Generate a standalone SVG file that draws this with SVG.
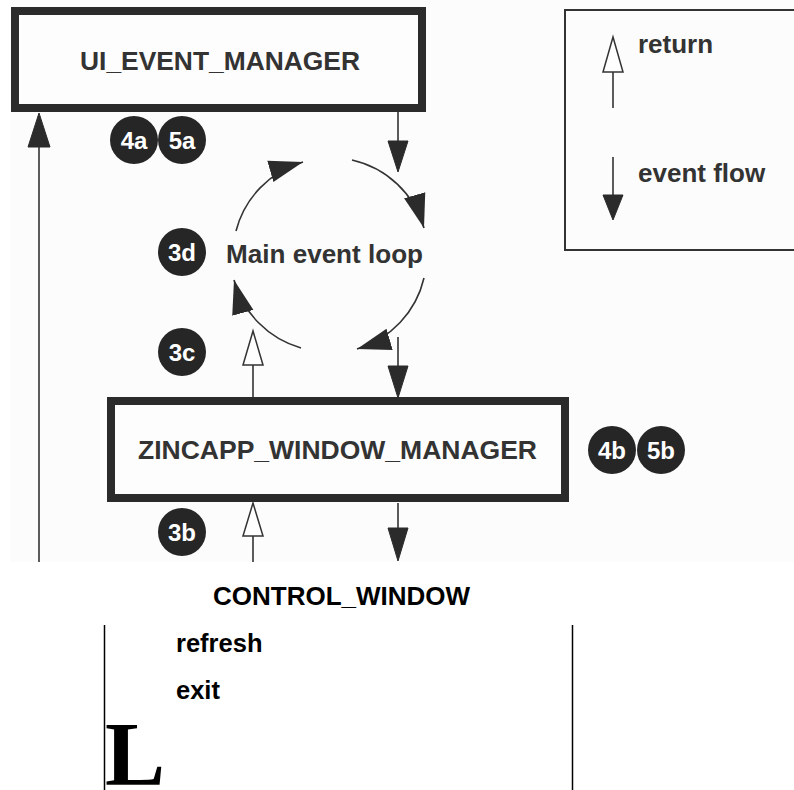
<svg xmlns="http://www.w3.org/2000/svg" width="794" height="790" viewBox="0 0 794 790">
  <style>
    .box { fill: #fdfdfd; stroke: #2b2b2b; stroke-width: 8; }
    .title { font-family: "Liberation Sans", Arial, sans-serif; font-weight: bold; font-size: 26px; fill: #333; }
    .badge circle { fill: #262626; }
    .badge text { font-family: "Liberation Sans", Arial, sans-serif; font-weight: bold; font-size: 24px; fill: #fff; text-anchor: middle; }
    .ln { stroke: #333; stroke-width: 1.6; fill: none; }
    .filled { fill: #2b2b2b; stroke: #2b2b2b; stroke-width: 1; }
    .hollow { fill: #fff; stroke: #333; stroke-width: 1.5; }
    .plain { font-family: "Liberation Sans", Arial, sans-serif; font-weight: bold; fill: #000; }
  </style>
  <defs>
    <marker id="loopHead" markerUnits="userSpaceOnUse" markerWidth="36" markerHeight="24" refX="34" refY="12" orient="auto">
      <path d="M0,1 L34,12 L0,23 z" fill="#2b2b2b"/>
    </marker>
  </defs>

  <rect x="10" y="0" width="784" height="562" fill="#fcfcfc"/>

  <g id="ui_event_manager">
    <rect class="box" x="15" y="11" width="407" height="97"/>
    <text class="title" x="80" y="70" textLength="280" lengthAdjust="spacingAndGlyphs">UI_EVENT_MANAGER</text>
  </g>

  <g id="zincapp_window_manager">
    <rect class="box" x="111" y="401" width="454" height="97"/>
    <text class="title" x="138" y="459" textLength="399" lengthAdjust="spacingAndGlyphs">ZINCAPP_WINDOW_MANAGER</text>
  </g>

  <g id="main_event_loop">
    <text class="title" x="226" y="263" textLength="197" lengthAdjust="spacingAndGlyphs">Main event loop</text>
  </g>

  <g id="legend">
    <rect x="565" y="10" width="240" height="240" fill="none" stroke="#333" stroke-width="2"/>
    <line class="ln" x1="613" y1="72" x2="613" y2="108"/>
    <polygon class="hollow" points="613,37 603,72 623,72"/>
    <text class="title" x="638" y="53">return</text>
    <line class="ln" x1="613" y1="157" x2="613" y2="195"/>
    <polygon class="filled" points="603,195 623,195 613,220"/>
    <text class="title" x="638" y="182">event flow</text>
  </g>

  <g id="badges">
    <g class="badge" id="b4a"><circle cx="134" cy="140" r="24"/><text x="134" y="148.5">4a</text></g>
    <g class="badge" id="b5a"><circle cx="182" cy="140" r="24"/><text x="182" y="148.5">5a</text></g>
    <g class="badge" id="b3d"><circle cx="182" cy="252" r="24"/><text x="182" y="260.5">3d</text></g>
    <g class="badge" id="b3c"><circle cx="182" cy="352" r="24"/><text x="182" y="360.5">3c</text></g>
    <g class="badge" id="b3b"><circle cx="182" cy="532" r="24"/><text x="182" y="540.5">3b</text></g>
    <g class="badge" id="b4b"><circle cx="612" cy="450" r="24"/><text x="612" y="458.5">4b</text></g>
    <g class="badge" id="b5b"><circle cx="661" cy="450" r="24"/><text x="661" y="458.5">5b</text></g>
  </g>

  <g id="connectors">
    <line class="ln" x1="39" y1="146" x2="39" y2="562" stroke-width="2"/>
    <polygon class="filled" points="39,113 28,147 50,147"/>

    <line class="ln" x1="398" y1="112" x2="398" y2="141"/>
    <polygon class="filled" points="388,141 408,141 398,172"/>

    <path class="ln" d="M236,231 A97,97 0 0 1 303,162" marker-end="url(#loopHead)"/>
    <path class="ln" d="M352,160 A97,97 0 0 1 424,228" marker-end="url(#loopHead)"/>
    <path class="ln" d="M424,278 A97,97 0 0 1 357,349" marker-end="url(#loopHead)"/>
    <path class="ln" d="M301,348 A97,97 0 0 1 234,280" marker-end="url(#loopHead)"/>

    <line class="ln" x1="398" y1="337" x2="398" y2="366"/>
    <polygon class="filled" points="388,366 408,366 398,398"/>
    <line class="ln" x1="253" y1="397" x2="253" y2="365"/>
    <polygon class="hollow" points="253,331 243,365 263,365"/>

    <line class="ln" x1="253" y1="562" x2="253" y2="536"/>
    <polygon class="hollow" points="253,503 243,536 263,536"/>
    <line class="ln" x1="398" y1="503" x2="398" y2="528"/>
    <polygon class="filled" points="388,528 408,528 398,561"/>
  </g>

  <g id="control_window">
    <text class="plain" x="213" y="605" font-size="26">CONTROL_WINDOW</text>
    <line x1="104.5" y1="625" x2="104.5" y2="790" stroke="#000" stroke-width="1.5"/>
    <line x1="572.5" y1="625" x2="572.5" y2="790" stroke="#000" stroke-width="1.5"/>
    <text class="plain" x="176" y="652" font-size="25.5">refresh</text>
    <text class="plain" x="176" y="699" font-size="25.5">exit</text>
    <text x="105" y="785" font-family="'Liberation Serif', 'Times New Roman', serif" font-weight="bold" font-size="90" fill="#000">L</text>
  </g>
</svg>
